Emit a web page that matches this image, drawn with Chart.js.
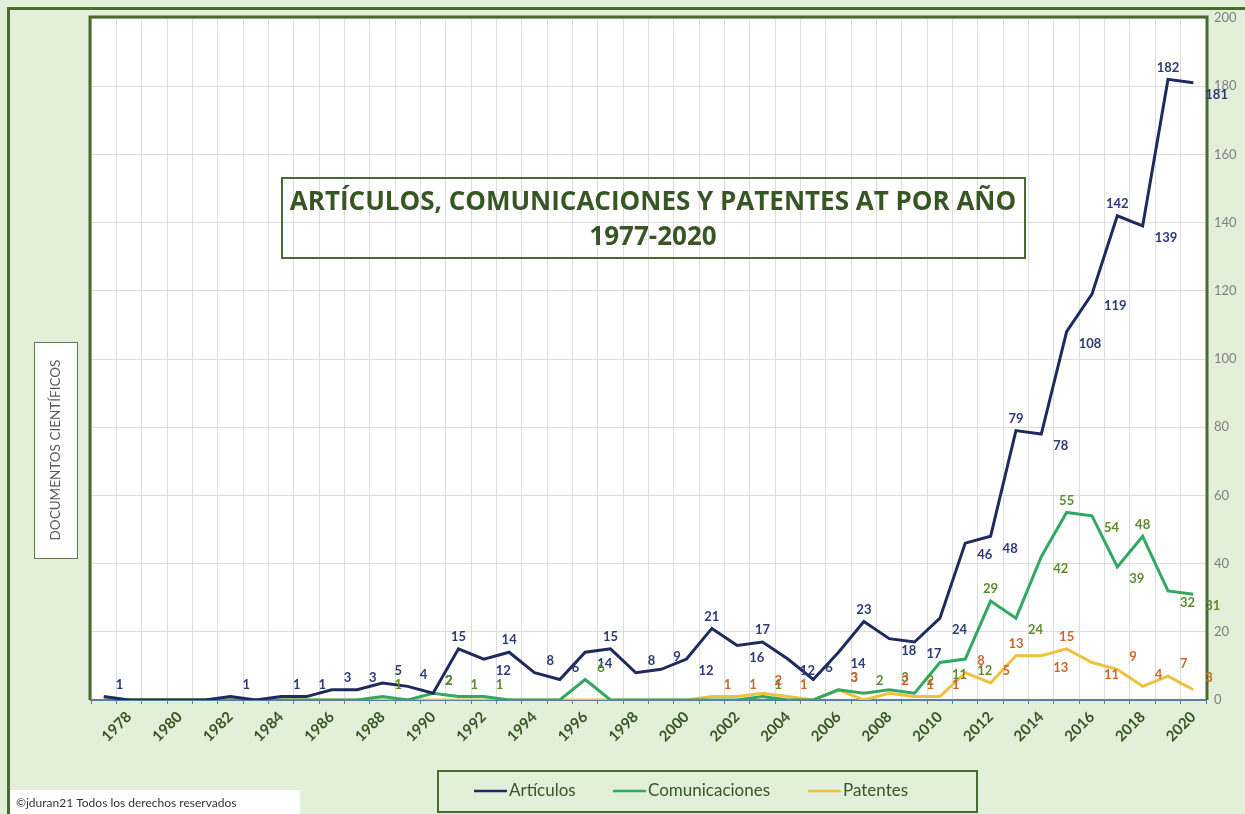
<!DOCTYPE html>
<html>
<head>
<meta charset="utf-8">
<script src="https://cdn.jsdelivr.net/npm/chart.js@4/dist/chart.umd.min.js"></script>
<style>
  body { margin: 0; background: #e2efd9; }
  canvas { display: block; }
</style>
</head>
<body>
<canvas id="docsChart" width="1245" height="814"></canvas>
<script>
const years = ["1977", "1978", "1979", "1980", "1981", "1982", "1983", "1984", "1985", "1986", "1987",
    "1988", "1989", "1990", "1991", "1992", "1993", "1994", "1995", "1996", "1997", "1998",
    "1999", "2000", "2001", "2002", "2003", "2004", "2005", "2006", "2007", "2008", "2009",
    "2010", "2011", "2012", "2013", "2014", "2015", "2016", "2017", "2018", "2019", "2020"]

const articulos = [1, 0, 0, 0, 0, 1, 0, 1, 1, 3, 3,
    5, 4, 2, 15, 12, 14, 8, 6, 14, 15, 8,
    9, 12, 21, 16, 17, 12, 6, 14, 23, 18, 17,
    24, 46, 48, 79, 78, 108, 119, 142, 139, 182, 181]

const comunicaciones = [0, 0, 0, 0, 0, 0, 0, 0, 0, 0, 0,
    1, 0, 2, 1, 1, 0, 0, 0, 6, 0, 0,
    0, 0, 0, 0, 1, 0, 0, 3, 2, 3, 2,
    11, 12, 29, 24, 42, 55, 54, 39, 48, 32, 31]

const patentes = [0, 0, 0, 0, 0, 0, 0, 0, 0, 0, 0,
    0, 0, 0, 0, 0, 0, 0, 0, 0, 0, 0,
    0, 0, 1, 1, 2, 1, 0, 3, 0, 2, 1,
    1, 8, 5, 13, 13, 15, 11, 9, 4, 7, 3]

const yTicks = [0, 20, 40, 60, 80, 100, 120, 140, 160, 180, 200]

const titleLines = ["ARTÍCULOS, COMUNICACIONES Y PATENTES AT POR AÑO", "1977-2020"]
const yTitle = "DOCUMENTOS CIENTÍFICOS"
const copyright = "©jduran21 Todos los derechos reservados"

const darkGreen = "#4a6a2f"
const textGreen = "#375623"

// fondo, marco, caja del titulo, leyenda y etiquetas de datos
const decor = {
    id: "decor",

    beforeDraw(chart) {
        const { ctx, chartArea: a, width, height } = chart
        ctx.save()
        ctx.fillStyle = "#e2efd9"
        ctx.fillRect(0, 0, width, height)
        ctx.strokeStyle = darkGreen
        ctx.lineWidth = 3
        ctx.strokeRect(8.5, 8.5, width + 10, height + 10)
        ctx.fillStyle = "#ffffff"
        ctx.fillRect(a.left, a.top, a.right - a.left, a.bottom - a.top)
        ctx.restore()
    },

    afterDatasetsDraw(chart) {
        const { ctx, chartArea: a } = chart

        ctx.save()
        // borde del area de trazado
        ctx.strokeStyle = darkGreen
        ctx.lineWidth = 3
        ctx.beginPath()
        ctx.moveTo(a.left - 1, a.bottom)
        ctx.lineTo(a.left - 1, a.top - 1)
        ctx.lineTo(a.right + 1, a.top - 1)
        ctx.lineTo(a.right + 1, a.bottom)
        ctx.stroke()

        // etiquetas de datos
        ctx.font = "bold 13px Lato"
        ctx.textBaseline = "middle"
        chart.data.datasets.forEach((ds, i) => {
            const meta = chart.getDatasetMeta(i)
            meta.data.forEach((pt, j) => {
                const v = ds.data[j]
                if (!v) return
                const prev = j > 0 ? ds.data[j - 1] : 0
                const next = j < ds.data.length - 1 ? ds.data[j + 1] : 0
                let x = pt.x + 12
                let y = pt.y - 12
                ctx.textAlign = "left"
                if (v >= 10) {
                    if (v >= prev && v >= next) {
                        x = pt.x
                        ctx.textAlign = "center"
                    } else {
                        x = pt.x + 12
                        y = pt.y + 12
                    }
                }
                ctx.fillStyle = ds.labelColor
                ctx.fillText(String(v), x, y)
            })
        })
        ctx.restore()
    },

    afterDraw(chart) {
        const { ctx } = chart
        ctx.save()

        // caja del titulo
        ctx.strokeStyle = darkGreen
        ctx.lineWidth = 2
        ctx.strokeRect(282, 178, 743, 80)
        ctx.fillStyle = textGreen
        ctx.font = "bold 26px 'Open Sans'"
        ctx.textAlign = "center"
        ctx.textBaseline = "middle"
        ctx.fillText(titleLines[0], 653, 203)
        ctx.fillText(titleLines[1], 653, 238)

        // titulo del eje vertical
        ctx.fillStyle = "#ffffff"
        ctx.fillRect(34, 342, 43, 216)
        ctx.strokeStyle = "#5f7a4a"
        ctx.lineWidth = 1
        ctx.strokeRect(34.5, 342.5, 43, 216)
        ctx.translate(56, 450)
        ctx.rotate(-Math.PI / 2)
        ctx.fillStyle = "#595959"
        ctx.font = "13.5px Lato"
        ctx.fillText(yTitle, 0, 0)
        ctx.setTransform(1, 0, 0, 1, 0, 0)

        // leyenda
        ctx.strokeStyle = darkGreen
        ctx.lineWidth = 2
        ctx.strokeRect(438, 771, 539, 41)
        const legendX = [474, 613, 808]
        ctx.font = "17px Lato"
        ctx.textAlign = "left"
        chart.data.datasets.forEach((ds, i) => {
            ctx.strokeStyle = ds.borderColor
            ctx.lineWidth = 2.5
            ctx.beginPath()
            ctx.moveTo(legendX[i], 791)
            ctx.lineTo(legendX[i] + 33, 791)
            ctx.stroke()
            ctx.fillStyle = textGreen
            ctx.fillText(ds.label, legendX[i] + 35, 791)
        })

        // derechos
        ctx.fillStyle = "#ffffff"
        ctx.fillRect(10, 790, 290, 24)
        ctx.fillStyle = "#333333"
        ctx.font = "12px Lato"
        ctx.fillText(copyright, 16, 803)

        ctx.restore()
    }
}

const ctx = document.getElementById("docsChart").getContext("2d")

const chart = new Chart(ctx, {
    type: "line",

    data: {
        labels: years,
        datasets: [
            {
                label: "Artículos",
                data: articulos,
                borderColor: "#1f2a5e",
                labelColor: "#2c3a7a",
                borderWidth: 3
            },
            {
                label: "Comunicaciones",
                data: comunicaciones,
                borderColor: "#33a863",
                labelColor: "#5e8a2c",
                borderWidth: 3
            },
            {
                label: "Patentes",
                data: patentes,
                borderColor: "#efc13f",
                labelColor: "#d0652b",
                borderWidth: 3
            }
        ]
    },

    options: {
        responsive: false,
        animation: false,
        layout: {
            padding: { left: 91, top: 18, right: 0, bottom: 54 }
        },
        elements: {
            point: { radius: 0 },
            line: { tension: 0, borderJoinStyle: "miter" }
        },
        plugins: {
            legend: { display: false },
            tooltip: { enabled: false }
        },
        scales: {
            x: {
                offset: true,
                grid: {
                    offset: true,
                    color: "#dcdcdc",
                    tickColor: "#5b7ea4",
                    tickLength: 4
                },
                border: { color: "#5b7ea4", width: 2 },
                ticks: {
                    autoSkip: false,
                    maxRotation: 45,
                    minRotation: 45,
                    padding: 4,
                    color: textGreen,
                    font: { family: "Lato", size: 15, weight: "bold" },
                    callback: function (val, idx) {
                        const y = years[idx]
                        return Number(y) % 2 === 0 ? y : ""
                    }
                },
                afterFit: (s) => { s.height = 60 }
            },
            y: {
                position: "right",
                min: 0,
                max: 200,
                grid: { color: "#dcdcdc", drawTicks: false },
                border: { display: false },
                afterBuildTicks: (s) => { s.ticks = yTicks.map(v => ({ value: v })) },
                ticks: {
                    padding: 8,
                    color: "#7f7f7f",
                    font: { family: "Lato", size: 13 }
                },
                afterFit: (s) => { s.width = 39 }
            }
        }
    },

    plugins: [decor]
})
</script>
</body>
</html>
